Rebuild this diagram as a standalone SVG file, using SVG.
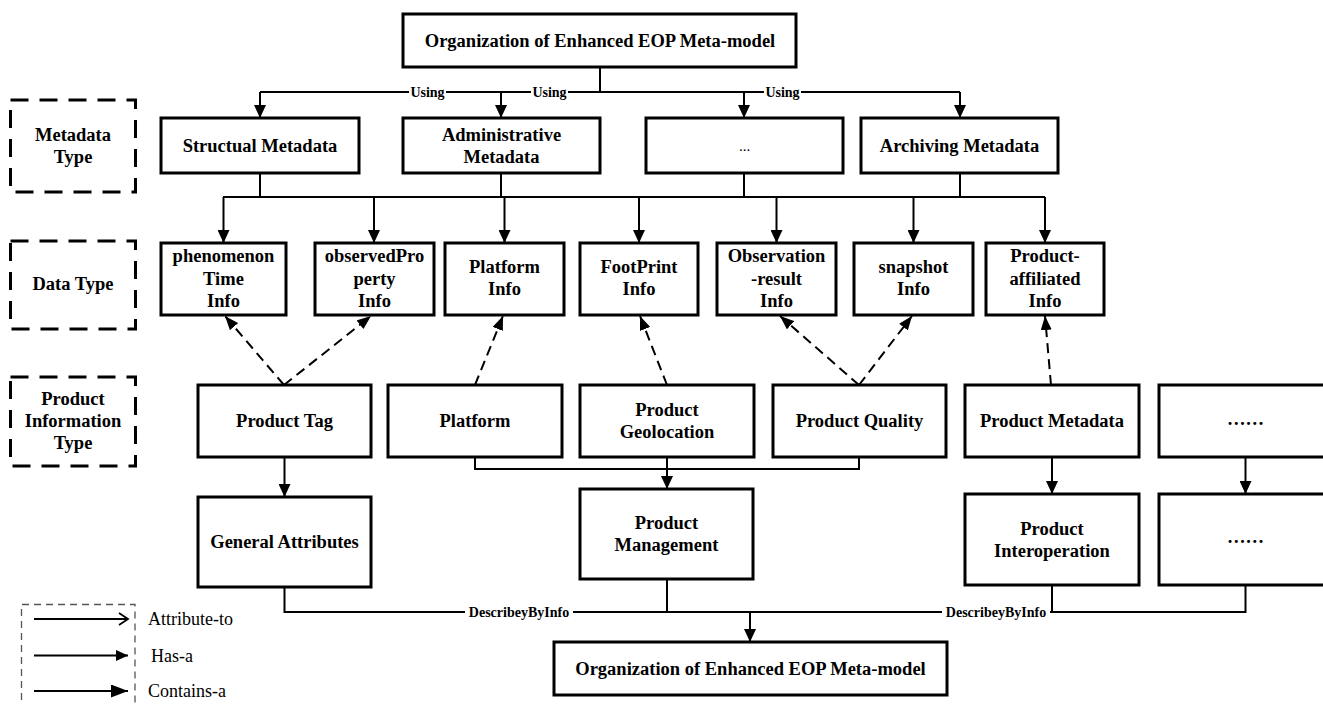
<svg xmlns="http://www.w3.org/2000/svg" width="1323" height="704" viewBox="0 0 1323 704">
<style>
.box{fill:#fff;stroke:#000;stroke-width:3}
.lbl{fill:#fff;stroke:#000;stroke-width:3;stroke-dasharray:18 11}
.t{font-family:"Liberation Serif","Times New Roman",serif;font-weight:bold;font-size:18.5px;text-anchor:middle;dominant-baseline:central;fill:#000}
.s{font-family:"Liberation Serif","Times New Roman",serif;font-weight:bold;font-size:14px;text-anchor:middle;dominant-baseline:central;fill:#000}
.lg{font-family:"Liberation Serif","Times New Roman",serif;font-size:18px;dominant-baseline:central;fill:#000}
.c{fill:none;stroke:#000;stroke-width:2}
.ca{fill:none;stroke:#000;stroke-width:2;marker-end:url(#ah)}
.da{fill:none;stroke:#000;stroke-width:2;stroke-dasharray:10 6;marker-end:url(#dh)}
.bg{fill:#fff}
</style>
<defs>
<marker id="ah" markerUnits="userSpaceOnUse" markerWidth="13" markerHeight="12" refX="13" refY="6" orient="auto"><path d="M0,0 L13,6 L0,12 z" fill="#000"/></marker>
<marker id="dh" markerUnits="userSpaceOnUse" markerWidth="14" markerHeight="11" refX="14" refY="5.5" orient="auto"><path d="M0,0 L14,5.5 L0,11 z" fill="#000"/></marker>
<marker id="lo" markerUnits="userSpaceOnUse" markerWidth="12" markerHeight="14" refX="10" refY="7" orient="auto"><path d="M1,1 L10,7 L1,13" fill="none" stroke="#000" stroke-width="1.8"/></marker>
<marker id="lh" markerUnits="userSpaceOnUse" markerWidth="12" markerHeight="11" refX="12" refY="5.5" orient="auto"><path d="M0,0 L12,5.5 L0,11 z" fill="#000"/></marker>
<marker id="lc" markerUnits="userSpaceOnUse" markerWidth="17" markerHeight="13" refX="17" refY="6.5" orient="auto"><path d="M0,0 L17,6.5 L0,13 z" fill="#000"/></marker>
</defs>
<rect width="1323" height="704" fill="#fff"/>

<g id="connectors">
<path class="c" d="M600,67 V92 M260,92 H960"/>
<path class="ca" d="M260,92 V118"/>
<path class="ca" d="M501,92 V118"/>
<path class="ca" d="M744,92 V118"/>
<path class="ca" d="M960,92 V118"/>
<rect class="bg" x="409" y="84" width="37" height="16"/>
<text class="s" x="427.5" y="92">Using</text>
<rect class="bg" x="531" y="84" width="37" height="16"/>
<text class="s" x="549.5" y="92">Using</text>
<rect class="bg" x="764" y="84" width="37" height="16"/>
<text class="s" x="782.5" y="92">Using</text>

<path class="c" d="M260,173 V197 M501,173 V197 M744,173 V197 M960,173 V197 M223,197 H1045"/>
<path class="ca" d="M223.5,197 V243"/>
<path class="ca" d="M374,197 V243"/>
<path class="ca" d="M504.5,197 V243"/>
<path class="ca" d="M639,197 V243"/>
<path class="ca" d="M776.5,197 V243"/>
<path class="ca" d="M913.5,197 V243"/>
<path class="ca" d="M1045,197 V243"/>

<path class="da" d="M284,385 L225,316"/>
<path class="da" d="M284,385 L371,316"/>
<path class="da" d="M475,385 L503,316"/>
<path class="da" d="M667,385 L640,316"/>
<path class="da" d="M859,385 L780,316"/>
<path class="da" d="M859,385 L912,316"/>
<path class="da" d="M1051,385 L1045,316"/>

<path class="ca" d="M284.5,457 V497"/>
<path class="c" d="M475,457 V469 H859 V457"/>
<path class="ca" d="M667,457 V489"/>
<path class="ca" d="M1052,457 V494"/>
<path class="ca" d="M1245.5,457 V494"/>

<path class="c" d="M284.5,587 V612 H1245.5 V585 M667,579 V612 M1052,585 V612"/>
<path class="ca" d="M750,612 V642"/>
<rect class="bg" x="465" y="604" width="108" height="16"/>
<text class="s" x="519" y="612">DescribeyByInfo</text>
<rect class="bg" x="942" y="604" width="108" height="16"/>
<text class="s" x="996" y="612">DescribeyByInfo</text>
</g>

<g id="n-top"><rect class="box" x="403" y="14" width="393" height="53"/><text class="t" x="600" y="41">Organization of Enhanced EOP Meta-model</text></g>

<g id="l-metadata"><rect class="lbl" x="10.5" y="100" width="125" height="92"/><text class="t" x="73" y="135">Metadata</text><text class="t" x="73" y="157">Type</text></g>
<g id="l-datatype"><rect class="lbl" x="10.5" y="241" width="125" height="88"/><text class="t" x="73" y="284">Data Type</text></g>
<g id="l-prodinfo"><rect class="lbl" x="10.5" y="377" width="125" height="89"/><text class="t" x="73" y="399">Product</text><text class="t" x="73" y="421">Information</text><text class="t" x="73" y="443">Type</text></g>

<g id="n-structual"><rect class="box" x="161" y="118" width="198" height="55"/><text class="t" x="260" y="146">Structual Metadata</text></g>
<g id="n-admin"><rect class="box" x="403" y="118" width="197" height="55"/><text class="t" x="501.5" y="135">Administrative</text><text class="t" x="501.5" y="157">Metadata</text></g>
<g id="n-etc"><rect class="box" x="646" y="118" width="197" height="55"/><text x="744.5" y="146" style="font-family:'Liberation Serif',serif;font-size:15px;text-anchor:middle;dominant-baseline:central">...</text></g>
<g id="n-archiving"><rect class="box" x="861" y="118" width="197" height="55"/><text class="t" x="959.5" y="146">Archiving Metadata</text></g>

<g id="n-phen"><rect class="box" x="161" y="243" width="125" height="72"/><text class="t" x="223.5" y="256">phenomenon</text><text class="t" x="223.5" y="279">Time</text><text class="t" x="223.5" y="301">Info</text></g>
<g id="n-obsprop"><rect class="box" x="315" y="243" width="119" height="72"/><text class="t" x="374.5" y="256">observedPro</text><text class="t" x="374.5" y="279">perty</text><text class="t" x="374.5" y="301">Info</text></g>
<g id="n-platinfo"><rect class="box" x="445" y="243" width="119" height="72"/><text class="t" x="504.5" y="267">Platform</text><text class="t" x="504.5" y="289">Info</text></g>
<g id="n-footprint"><rect class="box" x="580" y="243" width="118" height="72"/><text class="t" x="639" y="267">FootPrint</text><text class="t" x="639" y="289">Info</text></g>
<g id="n-obsres"><rect class="box" x="717" y="243" width="119" height="72"/><text class="t" x="776.5" y="256">Observation</text><text class="t" x="776.5" y="279">-result</text><text class="t" x="776.5" y="301">Info</text></g>
<g id="n-snapshot"><rect class="box" x="854" y="243" width="119" height="72"/><text class="t" x="913.5" y="267">snapshot</text><text class="t" x="913.5" y="289">Info</text></g>
<g id="n-affil"><rect class="box" x="986" y="243" width="118" height="72"/><text class="t" x="1045" y="256">Product-</text><text class="t" x="1045" y="279">affiliated</text><text class="t" x="1045" y="301">Info</text></g>

<g id="n-prodtag"><rect class="box" x="198" y="385" width="173" height="72"/><text class="t" x="284.5" y="421">Product Tag</text></g>
<g id="n-platform"><rect class="box" x="388" y="385" width="174" height="72"/><text class="t" x="475" y="421">Platform</text></g>
<g id="n-geoloc"><rect class="box" x="580" y="385" width="174" height="72"/><text class="t" x="667" y="410">Product</text><text class="t" x="667" y="432">Geolocation</text></g>
<g id="n-quality"><rect class="box" x="773" y="385" width="173" height="72"/><text class="t" x="859.5" y="421">Product Quality</text></g>
<g id="n-prodmeta"><rect class="box" x="965" y="385" width="174" height="72"/><text class="t" x="1052" y="421">Product Metadata</text></g>
<g id="n-etc2"><rect class="box" x="1159" y="385" width="173" height="72"/><text class="t" x="1245.5" y="419">……</text></g>

<g id="n-general"><rect class="box" x="198" y="497" width="173" height="90"/><text class="t" x="284.5" y="542">General Attributes</text></g>
<g id="n-mgmt"><rect class="box" x="580" y="489" width="173" height="90"/><text class="t" x="666.5" y="523">Product</text><text class="t" x="666.5" y="545">Management</text></g>
<g id="n-interop"><rect class="box" x="965" y="494" width="174" height="91"/><text class="t" x="1052" y="529">Product</text><text class="t" x="1052" y="551">Interoperation</text></g>
<g id="n-etc3"><rect class="box" x="1159" y="494" width="173" height="91"/><text class="t" x="1245.5" y="537">……</text></g>

<g id="n-bottom"><rect class="box" x="554" y="642" width="393" height="53"/><text class="t" x="750.5" y="669">Organization of Enhanced EOP Meta-model</text></g>

<g id="legend">
<path d="M21.5,712 V604.5 H135 V712" fill="none" stroke="#555" stroke-width="1.3" stroke-dasharray="7 5"/>
<path d="M34,619 H128" stroke="#000" stroke-width="2" marker-end="url(#lo)"/>
<path d="M34,655.5 H128" stroke="#000" stroke-width="2" marker-end="url(#lh)"/>
<path d="M34,691 H128" stroke="#000" stroke-width="2" marker-end="url(#lc)"/>
<text class="lg" x="148" y="619">Attribute-to</text>
<text class="lg" x="151" y="655.5">Has-a</text>
<text class="lg" x="148" y="691">Contains-a</text>
</g>
</svg>
